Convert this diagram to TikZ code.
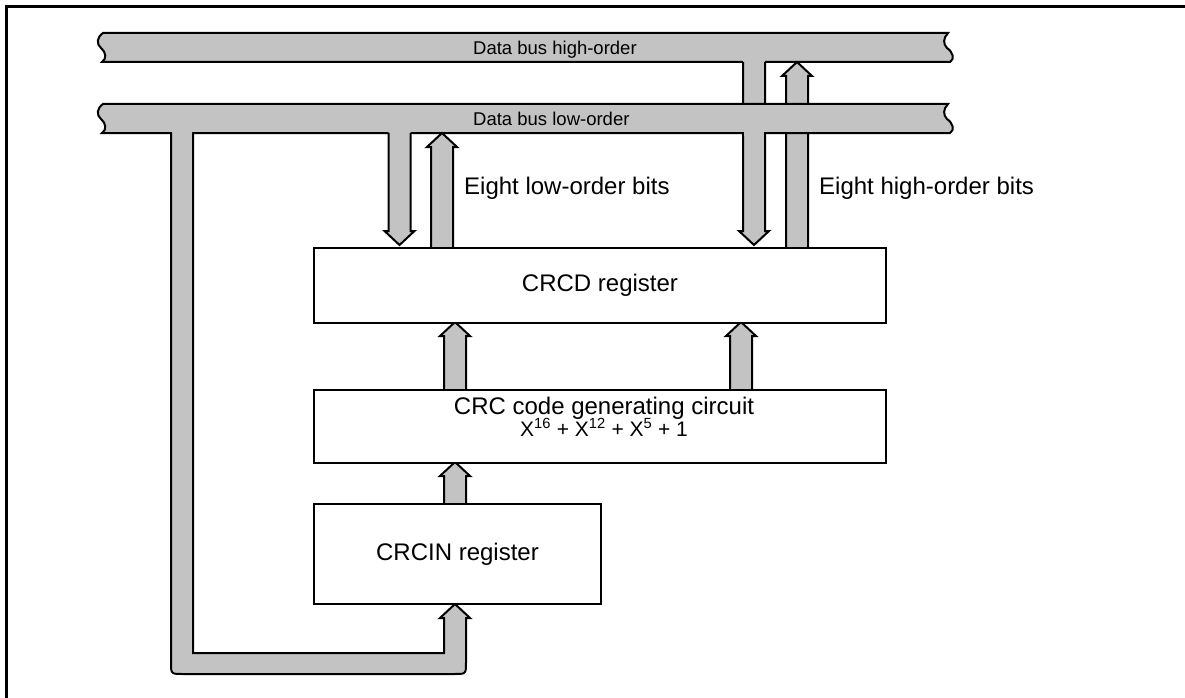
\documentclass[tikz,border=0pt]{standalone}
\usepackage{fontspec}
\setmainfont{Liberation Sans}
\definecolor{busgray}{RGB}{195,195,195}
\newcommand\busUp[3]{% centre x, bottom y, tip y
  \fill[busgray] (#1-11,#2) -- (#1-11,#3+14) -- (#1-15,#3+14) -- (#1,#3) -- (#1+15,#3+14) -- (#1+11,#3+14) -- (#1+11,#2) -- cycle;
  \draw[edge] (#1-11,#2) -- (#1-11,#3+14) -- (#1-15,#3+14) -- (#1,#3) -- (#1+15,#3+14) -- (#1+11,#3+14) -- (#1+11,#2);
}
\newcommand\busDown[3]{% centre x, top y, tip y
  \fill[busgray] (#1-11,#2-2) -- (#1-11,#3-14) -- (#1-15,#3-14) -- (#1,#3) -- (#1+15,#3-14) -- (#1+11,#3-14) -- (#1+11,#2-2) -- cycle;
  \draw[edge] (#1-11,#2) -- (#1-11,#3-14) -- (#1-15,#3-14) -- (#1,#3) -- (#1+15,#3-14) -- (#1+11,#3-14) -- (#1+11,#2);
}
\newcommand\busBand[2]{% top y, bottom y
  \filldraw[edge,fill=busgray] (103,#1) -- (948,#1)
    .. controls (943,#1+5) and (943,#1+11) .. (947,#1+15)
    .. controls (953,#1+19) and (955,#2-3) .. (950,#2)
    -- (102,#2)
    .. controls (107,#2-3) and (106,#2-10) .. (101,#2-14)
    .. controls (96,#2-18) and (97,#1+4) .. (103,#1) -- cycle;
}
\begin{document}
\begin{tikzpicture}[x=1pt,y=-1pt,
  edge/.style={draw=black,line width=2pt,line join=miter},
  box/.style={draw=black,line width=2pt,fill=white,inner sep=0pt,
    font=\fontsize{24}{28}\selectfont},
  boxtext/.style={font=\fontsize{24}{28}\selectfont,inner sep=0pt},
  bustext/.style={font=\fontsize{18.5}{22}\selectfont,inner sep=0pt},
  polytext/.style={font=\fontsize{21}{24}\selectfont,inner sep=0pt},
]
\useasboundingbox (0,0) rectangle (1185,698);
% frame (cropped)
\draw[line width=3pt] (6.5,698) -- (6.5,6.5) -- (1185,6.5);

% high-order bus
\busBand{33}{62}
% stems that pass behind the low-order bus
\busDown{754}{62}{245}
\busUp{797}{247}{62}
% low-order bus
\busBand{104}{133}
% T-junctions on the low-order bus
\fill[busgray] (744,130) rectangle (764,136);
% loop from low-order bus to CRCIN register
\fill[busgray] (172,130) -- (172,662) .. controls (172,673) .. (183,673) -- (454,673)
  .. controls (465,673) .. (465,662) -- (465,618) -- (470,618) -- (455,604) -- (440,618)
  -- (444,618) -- (444,653) -- (192,653) -- (192,130) -- cycle;
\draw[edge] (171,133) -- (171,662) .. controls (171,674) .. (183,674) -- (454,674)
  .. controls (466,674) .. (466,662) -- (466,618) -- (470,618) -- (455,604) -- (440,618)
  -- (444,618) -- (444,653) -- (193,653) -- (193,133);
% arrows between bus and CRCD register
\busDown{399.5}{133}{245}
\busUp{442}{247}{133}
% arrows between the blocks
\busUp{455}{389}{322}
\busUp{741}{389}{322}
\busUp{455}{503}{462}

% blocks
\node[box,anchor=north west,minimum width=572,minimum height=75] (crcd) at (313,247) {CRCD register};
\node[box,anchor=north west,minimum width=572,minimum height=73] (gen) at (313,389) {};
\node[box,anchor=north west,minimum width=287,minimum height=100] (crcin) at (313,503) {CRCIN register};
\node[boxtext,anchor=base] (genl1) at (604,414) {CRC code generating circuit};
\node[polytext,anchor=base] (genl2) at (604,436) {X\textsuperscript{16} + X\textsuperscript{12} + X\textsuperscript{5} + 1};

% labels
\node[bustext,anchor=base west] (hilab) at (473,54.5) {Data bus high-order};
\node[bustext,anchor=base west] (lolab) at (473,125.5) {Data bus low-order};
\node[boxtext,anchor=base west] (lowbits) at (464,194) {Eight low-order bits};
\node[boxtext,anchor=base west] (highbits) at (819,194) {Eight high-order bits};
\end{tikzpicture}
\end{document}
